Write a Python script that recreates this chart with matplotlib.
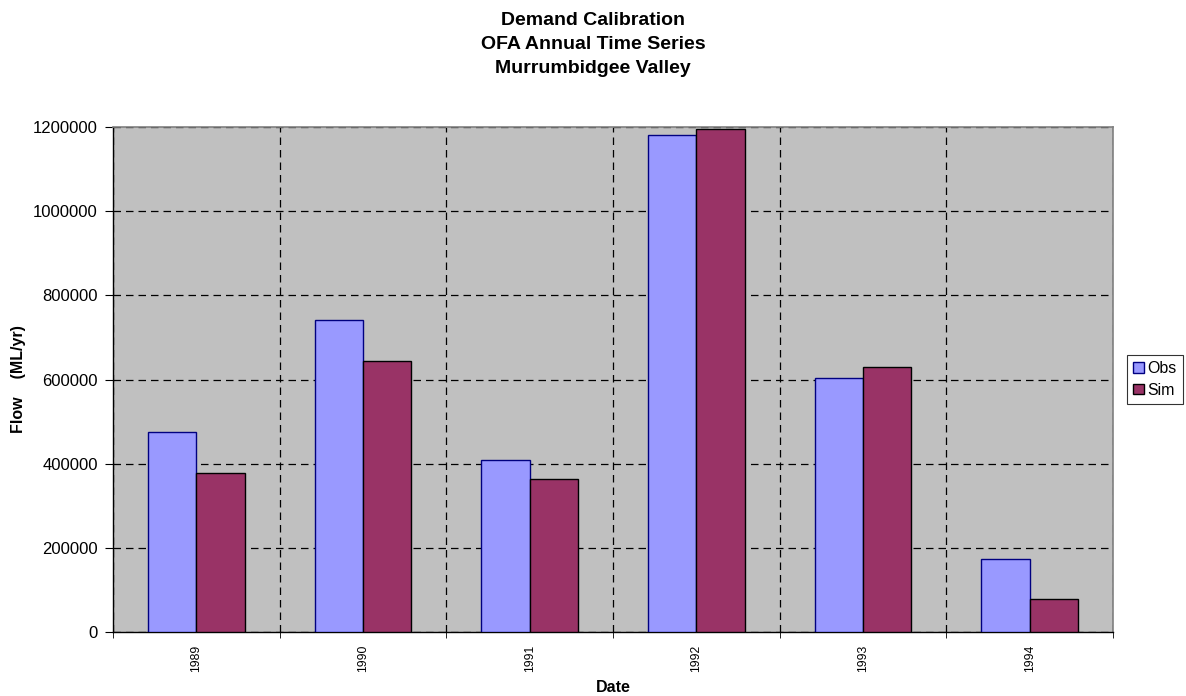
import matplotlib
matplotlib.use("Agg")
import matplotlib.pyplot as plt
import numpy as np
from matplotlib.ticker import FuncFormatter, MultipleLocator, FixedLocator

plt.rcParams['font.family'] = ['Liberation Sans', 'DejaVu Sans']

years = ["1989", "1990", "1991", "1992", "1993", "1994"]
obs = [475000, 741000, 408000, 1180000, 603000, 173000]
sim = [377000, 644000, 363000, 1195000, 629000, 78000]
title_lines = ["Demand Calibration", "OFA Annual Time Series", "Murrumbidgee Valley"]

W, H = 1186, 696
fig = plt.figure(figsize=(W / 100, H / 100), dpi=100)
ax = fig.add_axes([113 / W, 1 - 632 / H, 1000 / W, 505 / H])
ax.set_facecolor('#C0C0C0')

x = np.arange(len(years))
w = 0.29
ax.bar(x - w / 2, obs, width=w, color='#9999FF', edgecolor='#000080',
       linewidth=1.0, label='Obs', zorder=3)
ax.bar(x + w / 2, sim, width=w, color='#993366', edgecolor='black',
       linewidth=1.0, label='Sim', zorder=3)

ax.set_xlim(-0.5, len(years) - 0.5)
ax.set_ylim(0, 1200000)
ax.yaxis.set_major_locator(MultipleLocator(200000))
ax.yaxis.set_major_formatter(FuncFormatter(lambda v, p: f"{int(v)}"))

# category labels at centres, tick marks and gridlines at boundaries
ax.set_xticks(x)
ax.set_xticklabels(years, rotation=90, fontsize=8.7)
ax.tick_params(axis='x', which='major', length=0, pad=9)
ax.xaxis.set_minor_locator(FixedLocator(np.arange(-0.5, len(years), 1.0)))
ax.tick_params(axis='x', which='minor', length=4, color='black', direction='out')
ax.tick_params(axis='y', length=6, color='black', labelsize=12, direction='out', pad=5)

ax.grid(axis='y', which='major', color='black', linestyle=(0, (6, 4)), linewidth=0.9, zorder=1)
ax.grid(axis='x', which='minor', color='black', linestyle=(0, (6, 4)), linewidth=0.9, zorder=1)

for s in ('top', 'right'):
    ax.spines[s].set_color('#808080')
    ax.spines[s].set_linewidth(1.2)
for s in ('left', 'bottom'):
    ax.spines[s].set_color('black')
    ax.spines[s].set_linewidth(1.0)

ax.set_xlabel('Date', fontsize=11.5, fontweight='bold', va='center')
ax.xaxis.set_label_coords(0.5, (632 - 688) / 505)
ax.set_ylabel('Flow    (ML/yr)', fontsize=11.5, fontweight='bold', va='center')
ax.yaxis.set_label_coords((19 - 113) / 1000, 0.5)

# chart title, centred over the whole chart area
for i, line in enumerate(title_lines):
    fig.text(593 / W, 1 - (25 + 24 * i) / H, line, ha='center', va='baseline',
             fontsize=14, fontweight='bold')

leg = fig.legend(loc='upper left', bbox_to_anchor=(1127 / W, 1 - 355 / H), fontsize=11.4,
                 frameon=True, fancybox=False, edgecolor='black',
                 handlelength=0.65, handleheight=0.65, handletextpad=0.25,
                 borderpad=0.4, labelspacing=0.4, borderaxespad=0)
leg.get_frame().set_linewidth(0.8)

fig.savefig('out.png', dpi=100, facecolor='white')
